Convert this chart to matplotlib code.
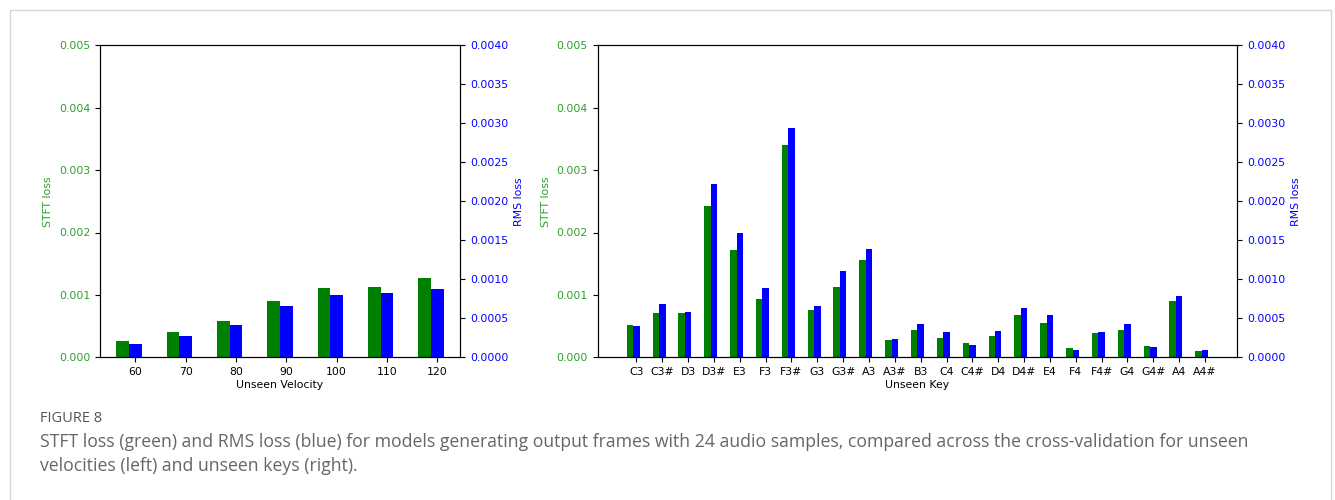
import numpy as np
import matplotlib
matplotlib.use("Agg")
import matplotlib.pyplot as plt
from matplotlib.patches import Rectangle

# Left panel: unseen velocity
velocities = ["60", "70", "80", "90", "100", "110", "120"]
vel_stft = [0.000262, 0.000406, 0.000582, 0.000903, 0.001111, 0.001127, 0.001271]
vel_rms = [0.000171, 0.000274, 0.000415, 0.000658, 0.000799, 0.000825, 0.000876]

# Right panel: unseen key
keys = ["C3", "C3#", "D3", "D3#", "E3", "F3", "F3#", "G3", "G3#", "A3", "A3#", "B3",
        "C4", "C4#", "D4", "D4#", "E4", "F4", "F4#", "G4", "G4#", "A4", "A4#"]
key_stft = [0.000518, 0.000710, 0.000710, 0.002425, 0.001720, 0.000935, 0.003403,
            0.000759, 0.001127, 0.001560, 0.000278, 0.000438, 0.000310, 0.000230,
            0.000342, 0.000678, 0.000550, 0.000150, 0.000390, 0.000438, 0.000182,
            0.000903, 0.000101]
key_rms = [0.000402, 0.000684, 0.000581, 0.002222, 0.001594, 0.000889, 0.002940,
           0.000658, 0.001107, 0.001389, 0.000235, 0.000427, 0.000325, 0.000158,
           0.000338, 0.000632, 0.000543, 0.000094, 0.000325, 0.000427, 0.000132,
           0.000786, 0.000094]

GREEN_TXT = "#2ca02c"
FS = 7.8
W = 0.25


def panel(fig, rect, labels, stft, rms, xlabel):
    ax = fig.add_axes(rect)
    x = np.arange(len(labels))
    ax.bar(x - W, stft, width=W, color="green")
    ax.set_ylim(0, 0.005)
    ax.set_yticks(np.arange(0, 0.0051, 0.001))
    ax.set_yticklabels([f"{v:.3f}" for v in np.arange(0, 0.0051, 0.001)])
    ax.tick_params(axis="y", labelcolor=GREEN_TXT, labelsize=FS)
    ax.set_ylabel("STFT loss", color=GREEN_TXT, fontsize=FS)
    ax.set_xticks(x)
    ax.set_xticklabels(labels)
    ax.tick_params(axis="x", labelsize=FS)
    ax.set_xlabel(xlabel, fontsize=FS, labelpad=2)

    ax2 = ax.twinx()
    ax2.bar(x, rms, width=W, color="blue")
    ax2.set_ylim(0, 0.004)
    ax2.set_yticks(np.arange(0, 0.00401, 0.0005))
    ax2.set_yticklabels([f"{v:.4f}" for v in np.arange(0, 0.00401, 0.0005)])
    ax2.tick_params(axis="y", labelcolor="blue", labelsize=FS)
    ax2.set_ylabel("RMS loss", color="blue", fontsize=FS)
    return ax, ax2


fig = plt.figure(figsize=(13.35, 5.0), dpi=100)

panel(fig, [0.0749, 0.2854, 0.2697, 0.624], velocities, vel_stft, vel_rms, "Unseen Velocity")
panel(fig, [0.4477, 0.2854, 0.4791, 0.624], keys, key_stft, key_rms, "Unseen Key")

# card border
fig.add_artist(Rectangle((10 / 1335, -0.1), 1321 / 1335, 1.1 - 10 / 500,
                         transform=fig.transFigure, fill=False,
                         edgecolor="#d6d6d6", linewidth=1.0))

cap_font = ["Open Sans", "DejaVu Sans"]
fig.text(40 / 1335, 1 - 418 / 500, "FIGURE 8", family=cap_font, fontsize=10.5,
         color="#555555", va="center", ha="left")
fig.text(40 / 1335, 1 - 442 / 500,
         "STFT loss (green) and RMS loss (blue) for models generating output frames with 24 audio samples, "
         "compared across the cross-validation for unseen",
         family=cap_font, fontsize=12.7, color="#666666", va="center", ha="left")
fig.text(40 / 1335, 1 - 466 / 500, "velocities (left) and unseen keys (right).",
         family=cap_font, fontsize=12.7, color="#666666", va="center", ha="left")

fig.savefig("out.png", dpi=100)
